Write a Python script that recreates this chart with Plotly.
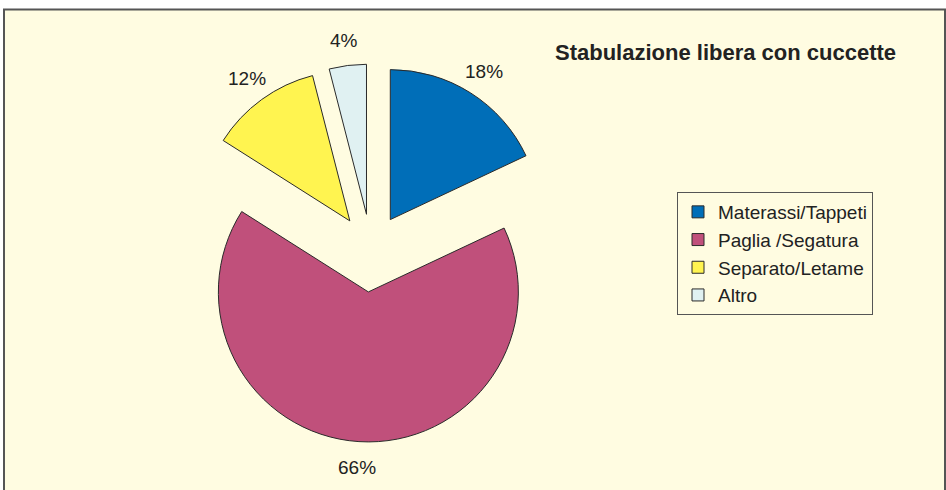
import math
import plotly.graph_objects as go

categories = ["Materassi/Tappeti", "Paglia /Segatura", "Separato/Letame", "Altro"]
values = [18, 66, 12, 4]
colors = ["#006EB8", "#C0507B", "#FFF450", "#E0F1F2"]
pulls = [0.24, 0.28, 0.24, 0.24]
title_text = "Stabulazione libera con cuccette"

W, H = 946, 490
bg = "#FFFCE1"
FONT = "Liberation Sans, Arial, sans-serif"

# pie geometry (pixels): centre and box height; radius follows plotly's rule
CX, CY, BOX_H = 371, 250, 384
R = BOX_H / (2 + 2 * max(pulls))
LABEL_GAP = 1.17  # label distance beyond each slice's apex, in radii

fig = go.Figure()
fig.add_trace(go.Pie(
    labels=categories,
    values=values,
    sort=False,
    direction="clockwise",
    rotation=0,
    pull=pulls,
    marker=dict(colors=colors, line=dict(color="#2A2A2A", width=1)),
    textinfo="none",
    hoverinfo="skip",
    automargin=False,
    domain=dict(x=[(CX - 260) / W, (CX + 260) / W],
                y=[1 - (CY + BOX_H / 2) / H, 1 - (CY - BOX_H / 2) / H]),
))

# percentage labels placed along each slice's bisector
total = sum(values)
annotations = []
cum = 0
for v, p in zip(values, pulls):
    mid = (cum + v / 2) / total * 2 * math.pi
    cum += v
    d = (p + LABEL_GAP) * R
    px = CX + d * math.sin(mid)
    py = CY - d * math.cos(mid)
    annotations.append(dict(
        text=f"{round(100 * v / total)}%", xref="paper", yref="paper",
        x=px / W, y=1 - py / H, xanchor="center", yanchor="middle",
        showarrow=False, font=dict(family=FONT, size=19, color="#222222")))

annotations.append(dict(text="<b>" + title_text + "</b>", xref="paper", yref="paper",
                        x=553 / W, y=1 - 53 / H, xanchor="left", yanchor="middle",
                        showarrow=False, font=dict(family=FONT, size=22, color="#222222")))

fig.update_layout(
    width=W, height=H, autosize=False,
    margin=dict(l=0, r=0, t=0, b=0, pad=0, autoexpand=False),
    paper_bgcolor="white",
    plot_bgcolor=bg,
    font=dict(family=FONT, size=19, color="#222222"),
    showlegend=True,
    legend=dict(
        x=677 / W, y=1 - 253.5 / H, xanchor="left", yanchor="middle",
        bgcolor=bg, bordercolor="#555555", borderwidth=1,
        font=dict(family=FONT, size=19, color="#222222"),
    ),
    shapes=[dict(type="rect", xref="paper", yref="paper", layer="below",
                 x0=4 / W, x1=945 / W, y0=-0.05, y1=1 - 9.5 / H,
                 fillcolor=bg, line=dict(color="#555555", width=2))],
    annotations=annotations,
)

fig.write_html("out.html", config={"responsive": False, "displayModeBar": False},
               post_script="document.body.style.margin='0';document.body.style.overflow='hidden';")
